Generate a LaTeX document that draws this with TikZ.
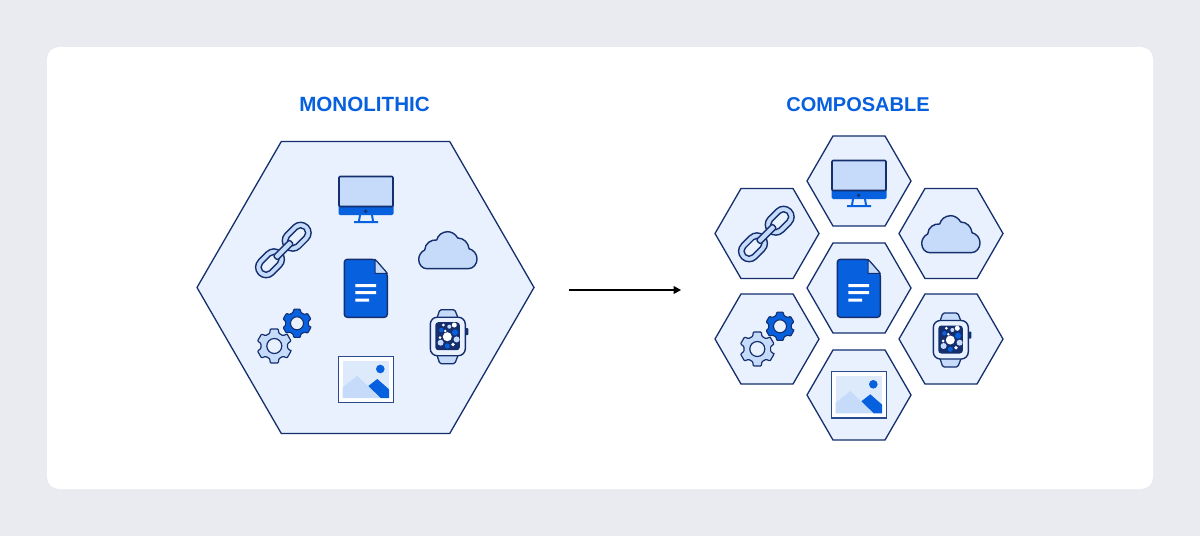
\documentclass[tikz,border=0pt]{standalone}
\usepackage{fontspec}
\setmainfont{Liberation Sans}
\usetikzlibrary{shapes.geometric,arrows.meta}
\definecolor{pagebg}{HTML}{E9EBF1}
\definecolor{hexfill}{HTML}{E8F1FD}
\definecolor{navy}{HTML}{152F6E}
\definecolor{framenavy}{HTML}{2A4A8C}
\definecolor{brand}{HTML}{0760DE}
\definecolor{pale}{HTML}{C6DBF9}
\definecolor{paler}{HTML}{DDEAFC}
\tikzset{
  x=1pt,y=-1pt,
  hexbig/.style={regular polygon,regular polygon sides=6,draw=navy,fill=hexfill,line width=1.3pt,inner sep=0pt,outer sep=0pt,minimum size=337pt},
  hexsmall/.style={regular polygon,regular polygon sides=6,draw=navy,fill=hexfill,line width=1.3pt,inner sep=0pt,outer sep=0pt,minimum size=104pt},
  heading/.style={font=\fontsize{20}{24}\selectfont\bfseries,text=brand,inner sep=0pt},
  iconline/.style={draw=navy,line width=1.4pt,line join=round},
  monitoricon/.pic={
    \fill[brand,rounded corners=1.5pt] (-27.5,3) rectangle (27.5,15);
    \fill[brand] (-7,15) -- (-5,15) -- (-6,21) -- (6,21) -- (5,15) -- (7,15) -- (8,21) -- (12,21) -- (12,23) -- (-12,23) -- (-12,21) -- (-8,21) -- cycle;
    \path[iconline,fill=pale,line width=1.6pt,rounded corners=1pt] (-27,-23.5) rectangle (27,6.5);
    \fill[navy] (-0.3,11.3) circle (1.8);
  },
  linkicon/.pic={
    \begin{scope}[shift={(12.7,-13.3)},rotate=45]
      \path[iconline,fill=pale,rounded corners=10.4pt] (-16,-10.5) rectangle (16,10.5);
      \path[iconline,fill=hexfill,rounded corners=4.8pt] (-10.5,-5) rectangle (10.5,5);
    \end{scope}
    \begin{scope}[shift={(-14,13.3)},rotate=45]
      \path[iconline,fill=pale,rounded corners=10.4pt] (-16,-10.5) rectangle (16,10.5);
      \path[iconline,fill=hexfill,rounded corners=4.8pt] (-10.5,-5) rectangle (10.5,5);
    \end{scope}
    \path[iconline,fill=pale,shift={(-0.6,0)},rotate=45,rounded corners=2pt] (-11.5,-3) rectangle (11.5,3);
  },
  cloudicon/.pic={
    \begin{scope}[scale=1/3]
      \path[iconline,fill=pale] (-63,56) -- (62,56) .. controls (77,56) and (88,42) .. (88,27) .. controls (88,12) and (78,0) .. (64,-4) .. controls (62,-22) and (48,-36) .. (30,-36) .. controls (24,-47) and (12,-55) .. (0,-55) .. controls (-16,-55) and (-30,-44) .. (-33,-30) .. controls (-50,-32) and (-68,-20) .. (-69,0) .. controls (-80,5) and (-87,17) .. (-87,28) .. controls (-87,44) and (-76,56) .. (-63,56) -- cycle;
    \end{scope}
  },
  docicon/.pic={
    \path[iconline,fill=brand,rounded corners=3pt] (9,-28.7) -- (-21.7,-28.7) -- (-21.7,29.3) -- (21.3,29.3) -- (21.3,-14.7) -- cycle;
    \path[iconline,fill=pale,line width=1pt] (9,-28.7) -- (21.3,-14.7) -- (9,-14.7) -- cycle;
    \fill[white] (-10.7,-3.8) rectangle (10,-0.8) (-10.7,3.2) rectangle (10,6.2) (-10.7,10.5) rectangle (3,13.5);
  },
  gearsicon/.pic={
    \begin{scope}[shift={(-9.7,9)}]
      \path[iconline,fill=pale,line width=1.2pt,rounded corners=0.8pt] (30-13:17.5) \foreach \i in {30,90,...,330}{ -- (\i-13:17.5) -- (\i+13:17.5) -- (\i+20:13.5) -- (\i+40:13.5) } -- cycle;
      \path[iconline,fill=hexfill,line width=1.2pt] (0,0) circle (7.5);
    \end{scope}
    \begin{scope}[shift={(13,-13.7)}]
      \path[iconline,fill=brand,line width=1.1pt,rounded corners=0.8pt] (30-13:14.5) \foreach \i in {30,90,...,330}{ -- (\i-13:14.5) -- (\i+13:14.5) -- (\i+20:11.5) -- (\i+40:11.5) } -- cycle;
      \path[iconline,fill=hexfill,line width=1.1pt] (0,0) circle (6.5);
    \end{scope}
  },
  watchicon/.pic={
    \path[iconline,fill=pale,line width=1.3pt,rounded corners=1.5pt] (-10.5,-18) -- (-7.5,-27) -- (7.5,-27) -- (11,-18) -- cycle;
    \path[iconline,fill=pale,line width=1.3pt,rounded corners=1.5pt] (-10.5,18) -- (-7.5,27) -- (7.5,27) -- (11,18) -- cycle;
    \fill[navy,rounded corners=0.8pt] (17,-8.5) rectangle (21,-1.5);
    \path[iconline,fill=hexfill,rounded corners=7pt] (-17,-19.5) rectangle (18,19);
    \fill[navy,rounded corners=3pt] (-12,-14.5) rectangle (12.5,13.5);
    \foreach \px/\py/\pr/\pc in {0/0/4.5/white,-4/-11.7/1.5/white,2/-10/2/pale,7/-11.7/2.5/white,-6/-6.7/2.2/brand,7.7/-4.3/3/brand,-7.3/1/1.5/white,9.3/2.7/3/pale,-6.7/6/3/pale,0/9.3/2.5/brand,5.7/7.7/1.9/white,-2/-5.7/1.4/white}{
      \fill[\pc] (\px,\py) circle (\pr);
    }
  },
  imageicon/.pic={
    \path[draw=framenavy,line width=1.4pt,fill=white] (-27.5,-23.7) rectangle (27.5,22.5);
    \fill[paler] (-23.3,-19.3) rectangle (23,18);
    \fill[pale] (-23.3,7.3) -- (-8.7,-4.3) -- (14,18) -- (-23.3,18) -- cycle;
    \fill[brand] (2.3,6) -- (11.3,-1) -- (23,9.3) -- (23,18) -- (14.7,18) -- cycle;
    \fill[brand] (14.3,-11) circle (4.3);
  },
}
\begin{document}
\begin{tikzpicture}
\useasboundingbox (0,0) rectangle (1200,536);
\fill[pagebg] (0,0) rectangle (1200,536);
\fill[white,rounded corners=12pt] (47,47) rectangle (1153,489);

\node[heading,font=\fontsize{20.6}{24}\selectfont\bfseries] (titleA) at (364.5,104.5) {MONOLITHIC};
\node[heading] (titleB) at (858,104.5) {COMPOSABLE};

\node[hexbig] (big) at (365.5,287.5) {};
\node[hexsmall] (hT) at (859,181) {};
\node[hexsmall] (hC) at (859,288) {};
\node[hexsmall] (hB) at (859,395) {};
\node[hexsmall] (hLT) at (767,233.5) {};
\node[hexsmall] (hLB) at (767,339) {};
\node[hexsmall] (hRT) at (951,233.5) {};
\node[hexsmall] (hRB) at (951,339) {};

\pic at (366,200) {monitoricon};
\pic at (284,250) {linkicon};
\pic at (447.7,250) {cloudicon};
\pic at (366,288) {docicon};
\pic at (284,337) {gearsicon};
\pic at (447.3,336.7) {watchicon};
\pic at (366,380) {imageicon};

\pic at (859,184) {monitoricon};
\pic at (767,234) {linkicon};
\pic at (950.7,234) {cloudicon};
\pic at (859,288) {docicon};
\pic at (767,340) {gearsicon};
\pic at (950.3,340) {watchicon};
\pic at (859,395.3) {imageicon};

\coordinate (arrowStart) at (569,290);
\coordinate (arrowEnd) at (681,290);
\draw[black,line width=1.1pt,-{Triangle[length=7.5pt,width=8pt]}] (arrowStart) -- (arrowEnd);
\end{tikzpicture}
\end{document}
